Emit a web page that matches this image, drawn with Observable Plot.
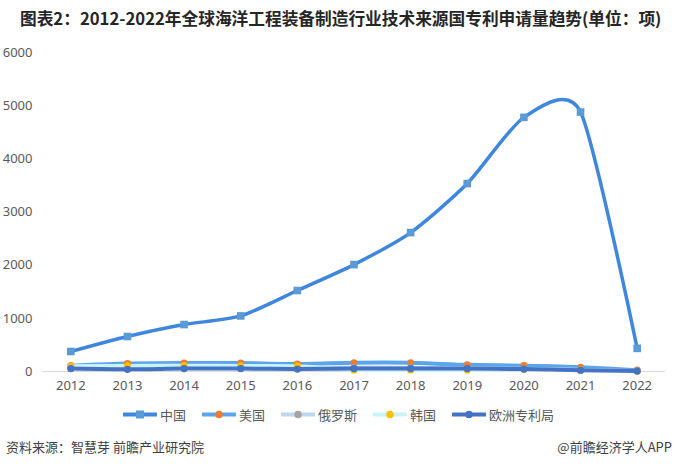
<!DOCTYPE html>
<html><head><meta charset="utf-8">
<script src="https://cdn.jsdelivr.net/npm/d3@7"></script>
<script src="https://cdn.jsdelivr.net/npm/@observablehq/plot@0.6"></script>
<style>
body{margin:0;width:677px;height:468px;position:relative;background:#fff;font-family:"Noto Sans CJK SC","Noto Sans",sans-serif;overflow:hidden}
#title{position:absolute;left:20px;top:6px;font-size:16.7px;font-weight:bold;color:#262626;white-space:nowrap}
#chart{position:absolute;left:0;top:40px}
#legend{position:absolute;top:405px;left:0;width:677px;display:flex;justify-content:center;align-items:center;gap:16px;font-size:13px;color:#595959}
#legend .item{display:flex;align-items:center;gap:3px}
#source{position:absolute;left:6px;top:437px;font-size:13px;color:#404040}
#credit{position:absolute;right:5px;top:437px;font-size:13px;color:#404040}
</style>
</head><body>
<div id="title">图表2：2012-2022年全球海洋工程装备制造行业技术来源国专利申请量趋势(单位：项)</div>
<div id="chart"></div>
<div id="legend"></div>
<div id="source">资料来源：智慧芽 前瞻产业研究院</div>
<div id="credit">@前瞻经济学人APP</div>
<script>
const years = [2012, 2013, 2014, 2015, 2016, 2017, 2018, 2019, 2020, 2021, 2022];
const seriesNames = ["中国", "美国", "俄罗斯", "韩国", "欧洲专利局"];
const china  = [376, 658, 883, 1045, 1523, 2011, 2613, 3535, 4780, 4880, 435];
const usa    = [110, 150, 160, 160, 140, 165, 165, 125, 110, 80, 25];
const russia = [60, 70, 80, 75, 70, 75, 70, 60, 50, 30, 10];
const korea  = [100, 105, 110, 105, 100, 30, 30, 30, 40, 30, 5];
const epo    = [55, 40, 55, 55, 45, 55, 55, 55, 45, 25, 8];
const yTicks = [0, 1000, 2000, 3000, 4000, 5000, 6000];

const seriesValues = [china, usa, russia, korea, epo];
const lineColors = ["#3F87DE", "#5AA5EC", "#BDD7EE", "#C9F3F7", "#4472C4"];
const markerColors = ["#5B9BD5", "#ED7D31", "#A5A5A5", "#FFC000", "#4472C4"];
const lineWidths = [3.5, 4, 4, 4, 4];

const rows = seriesNames.map((s, i) => years.map((y, j) => ({year: y, value: seriesValues[i][j], series: s})));

const marks = [Plot.ruleY([0], {stroke: "#d9d9d9", strokeWidth: 1})];
rows.forEach((r, i) => {
  marks.push(Plot.line(r, {x: "year", y: "value", stroke: lineColors[i], strokeWidth: lineWidths[i], curve: "cardinal", tension: 0.3}));
  marks.push(Plot.dot(r, {x: "year", y: "value", fill: markerColors[i], symbol: i === 0 ? "square" : "circle", r: i === 0 ? 4.3 : 3.6, stroke: "none"}));
});

const chart = Plot.plot({
  width: 677,
  height: 355,
  marginTop: 12,
  marginBottom: 24,
  marginLeft: 42,
  marginRight: 12,
  style: {fontSize: "13px", fontFamily: "'Noto Sans','Liberation Sans',sans-serif", color: "#595959", background: "transparent"},
  x: {domain: [2011.5, 2022.5], ticks: years, tickFormat: d => String(d), tickSize: 0, tickPadding: 9, label: null},
  y: {domain: [0, 6000], ticks: yTicks, tickFormat: d => String(d), tickSize: 0, tickPadding: 10, label: null},
  marks
});
document.getElementById("chart").appendChild(chart);

const legend = document.getElementById("legend");
seriesNames.forEach((s, i) => {
  const item = document.createElement("div");
  item.className = "item";
  const marker = i === 0
    ? `<rect x="13" y="2.5" width="8" height="8" fill="${markerColors[i]}"/>`
    : `<circle cx="17" cy="6.5" r="3.8" fill="${markerColors[i]}"/>`;
  item.innerHTML = `<svg width="34" height="13"><line x1="1" x2="33" y1="6.5" y2="6.5" stroke="${lineColors[i]}" stroke-width="4" stroke-linecap="round"/>${marker}</svg><span>${s}</span>`;
  legend.appendChild(item);
});
</script>
</body></html>
